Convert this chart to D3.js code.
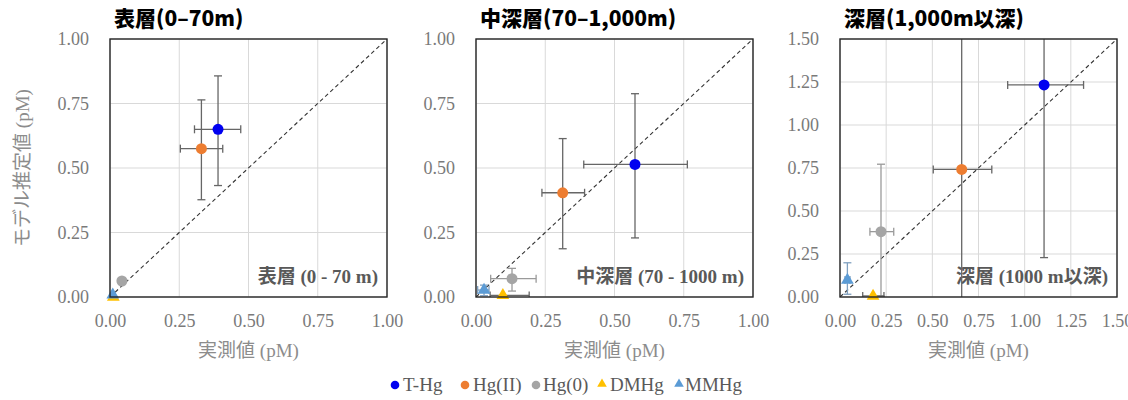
<!DOCTYPE html>
<html><head><meta charset="utf-8">
<script src="https://cdn.jsdelivr.net/npm/d3@7/dist/d3.min.js"></script>
<style>
html,body{margin:0;padding:0;background:#fff;}
svg{display:block;}
</style></head>
<body><svg id="chart" width="1128" height="400"></svg>
<script>
// ---- data ----
const seriesNames = ["T-Hg", "Hg(II)", "Hg(0)", "DMHg", "MMHg"];
const seriesColors = ["#0000f0", "#ed7d31", "#a5a5a5", "#ffc000", "#5b9bd5"];
const seriesShapes = ["circle", "circle", "circle", "triangle", "triangle"];
const errColors = ["#666666", "#666666", "#9a9a9a", "#666666", "#7f9fbf"];

const panelTitles = ["表層(0–70m)", "中深層(70–1,000m)", "深層(1,000m以深)"];
const panelNotes = ["表層 (0 - 70 m)", "中深層 (70 - 1000 m)", "深層 (1000 m以深)"];
const panelMax = [1.0, 1.0, 1.5];
const ticks1 = [0, 0.25, 0.5, 0.75, 1.0];
const ticks3 = [0, 0.25, 0.5, 0.75, 1.0, 1.25, 1.5];

// panel 1: surface
const surfObs = [0.39, 0.33, 0.043, 0.012, 0.010];
const surfMod = [0.65, 0.575, 0.062, 0.000, 0.008];
const surfXLo = [0.305, 0.254, null, null, null];
const surfXHi = [0.472, 0.407, null, null, null];
const surfYLo = [0.432, 0.377, null, null, null];
const surfYHi = [0.857, 0.764, null, null, null];

// panel 2: intermediate
const midObs = [0.574, 0.313, 0.130, 0.097, 0.029];
const midMod = [0.514, 0.404, 0.071, 0.006, 0.027];
const midXLo = [0.389, 0.238, 0.053, 0.051, 0.006];
const midXHi = [0.763, 0.392, 0.217, 0.192, 0.047];
const midYLo = [0.229, 0.187, 0.023, null, 0.005];
const midYHi = [0.788, 0.614, 0.111, null, 0.046];

// panel 3: deep
const deepObs = [1.105, 0.659, 0.222, 0.179, 0.040];
const deepMod = [1.233, 0.742, 0.380, 0.006, 0.099];
const deepXLo = [0.908, 0.505, 0.162, 0.123, 0.027];
const deepXHi = [1.319, 0.822, 0.291, 0.238, 0.054];
const deepYLo = [0.229, -0.30, 0.005, null, 0.016];
const deepYHi = [2.240, 1.780, 0.772, null, 0.199];

const panelData = [
  {obs: surfObs, mod: surfMod, xlo: surfXLo, xhi: surfXHi, ylo: surfYLo, yhi: surfYHi},
  {obs: midObs, mod: midMod, xlo: midXLo, xhi: midXHi, ylo: midYLo, yhi: midYHi},
  {obs: deepObs, mod: deepMod, xlo: deepXLo, xhi: deepXHi, ylo: deepYLo, yhi: deepYHi}
];

// ---- layout ----
const panelLeft = [110, 476, 840];
const plotTop = 39, plotW = 277, plotH = 258;
const serif = "'Liberation Serif','Times New Roman','Noto Sans CJK JP',serif";
const gothic = "'Noto Sans CJK JP',sans-serif";

const svg = d3.select("#chart");
const defs = svg.append("defs");

panelData.forEach((pd, p) => {
  const max = panelMax[p];
  const ticks = max > 1 ? ticks3 : ticks1;
  const x = d3.scaleLinear().domain([0, max]).range([0, plotW]);
  const y = d3.scaleLinear().domain([0, max]).range([plotH, 0]);
  const g = svg.append("g").attr("transform", `translate(${panelLeft[p]},${plotTop})`);

  defs.append("clipPath").attr("id", "clip" + p)
    .append("rect").attr("x", 0).attr("y", 0).attr("width", plotW).attr("height", plotH);

  // gridlines
  g.append("g").selectAll("line.v").data(ticks).join("line")
    .attr("x1", d => x(d)).attr("x2", d => x(d)).attr("y1", 0).attr("y2", plotH)
    .attr("stroke", "#d9d9d9").attr("stroke-width", 1);
  g.append("g").selectAll("line.h").data(ticks).join("line")
    .attr("y1", d => y(d)).attr("y2", d => y(d)).attr("x1", 0).attr("x2", plotW)
    .attr("stroke", "#d9d9d9").attr("stroke-width", 1);

  // axes (tick labels only)
  const xAxis = d3.axisBottom(x).tickValues(ticks).tickFormat(d3.format(".2f")).tickSize(0).tickPadding(17);
  const yAxis = d3.axisLeft(y).tickValues(ticks).tickFormat(d3.format(".2f")).tickSize(0).tickPadding(21);
  const gx = g.append("g").attr("transform", `translate(0,${plotH})`).call(xAxis);
  const gy = g.append("g").call(yAxis);
  [gx, gy].forEach(a => {
    a.select(".domain").remove();
    a.attr("font-family", serif).attr("font-size", 18);
    a.selectAll("text").attr("font-family", serif).attr("font-size", 18).attr("fill", "#7a7a7a");
  });

  // annotation inside plot
  g.append("text").attr("x", plotW - 9).attr("y", plotH - 14)
    .attr("text-anchor", "end").attr("font-family", serif).attr("font-weight", "bold")
    .attr("font-size", 19).attr("fill", "#595959").text(panelNotes[p]);

  const inner = g.append("g").attr("clip-path", `url(#clip${p})`);

  // 1:1 dashed line
  inner.append("line").attr("x1", x(0)).attr("y1", y(0)).attr("x2", x(max)).attr("y2", y(max))
    .attr("stroke", "#333").attr("stroke-width", 1.1).attr("stroke-dasharray", "4,3");

  const cap = 4;
  seriesNames.forEach((s, i) => {
    const cx = x(pd.obs[i]), cy = y(pd.mod[i]);
    const ec = errColors[i];
    if (pd.ylo[i] !== null) {
      const y1 = y(pd.ylo[i]), y2 = y(pd.yhi[i]);
      inner.append("line").attr("x1", cx).attr("x2", cx).attr("y1", y1).attr("y2", y2)
        .attr("stroke", ec).attr("stroke-width", 1.3);
      [y1, y2].forEach(yy => inner.append("line").attr("x1", cx - cap).attr("x2", cx + cap)
        .attr("y1", yy).attr("y2", yy).attr("stroke", ec).attr("stroke-width", 1.3));
    }
    if (pd.xlo[i] !== null) {
      const x1 = x(pd.xlo[i]), x2 = x(pd.xhi[i]);
      inner.append("line").attr("x1", x1).attr("x2", x2).attr("y1", cy).attr("y2", cy)
        .attr("stroke", ec).attr("stroke-width", 1.3);
      [x1, x2].forEach(xx => inner.append("line").attr("x1", xx).attr("x2", xx)
        .attr("y1", cy - cap).attr("y2", cy + cap).attr("stroke", ec).attr("stroke-width", 1.3));
    }
  });

  // markers
  const mk = g.append("g");
  seriesNames.forEach((s, i) => {
    const cx = x(pd.obs[i]), cy = y(pd.mod[i]);
    if (seriesShapes[i] === "circle") {
      mk.append("circle").attr("cx", cx).attr("cy", cy).attr("r", 5.5)
        .attr("fill", seriesColors[i]);
    } else {
      mk.append("path").attr("transform", `translate(${cx},${cy})`)
        .attr("d", d3.symbol(d3.symbolTriangle, 70)())
        .attr("fill", seriesColors[i]);
    }
  });

  // border
  g.append("rect").attr("x", 0).attr("y", 0).attr("width", plotW).attr("height", plotH)
    .attr("fill", "none").attr("stroke", "#262626").attr("stroke-width", 1.4);

  // title
  svg.append("text").attr("x", panelLeft[p] + 4).attr("y", 26)
    .attr("font-family", gothic).attr("font-weight", 900).attr("font-size", 21)
    .attr("fill", "#000").text(panelTitles[p]);

  // x axis title
  svg.append("text").attr("x", panelLeft[p] + plotW / 2).attr("y", 357)
    .attr("text-anchor", "middle").attr("font-family", serif).attr("font-size", 19)
    .attr("fill", "#8c8c8c").text("実測値 (pM)");
});

// y axis title
svg.append("text").attr("transform", `translate(29,${plotTop + plotH / 2}) rotate(-90)`)
  .attr("text-anchor", "middle").attr("font-family", serif).attr("font-size", 19)
  .attr("fill", "#8c8c8c").text("モデル推定値 (pM)");

// legend
const legendMarkX = [395, 465, 536, 602, 679];
const legendTextX = [403, 473, 543, 610, 685];
const lg = svg.append("g").attr("transform", "translate(0,385)");
seriesNames.forEach((s, i) => {
  const lx = legendMarkX[i];
  if (seriesShapes[i] === "circle") {
    lg.append("circle").attr("cx", lx).attr("cy", 0).attr("r", 4.3).attr("fill", seriesColors[i]);
  } else {
    lg.append("path").attr("transform", `translate(${lx},-1)`)
      .attr("d", d3.symbol(d3.symbolTriangle, 40)()).attr("fill", seriesColors[i]);
  }
  lg.append("text").attr("x", legendTextX[i]).attr("y", 6)
    .attr("font-family", serif).attr("font-size", 19).attr("fill", "#595959").text(s);
});
</script></body></html>
